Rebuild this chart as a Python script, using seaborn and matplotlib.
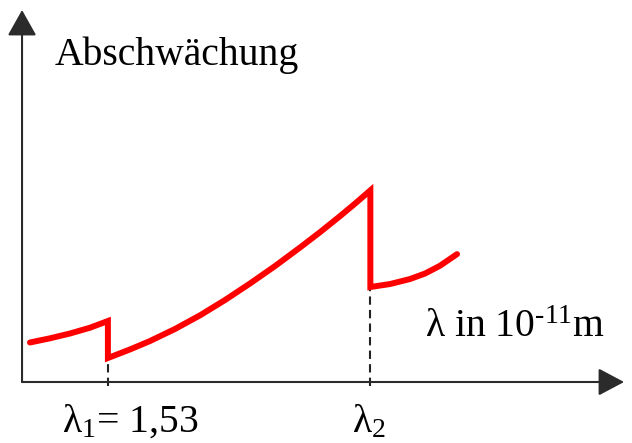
import numpy as np
import matplotlib
matplotlib.use("Agg")
import matplotlib.pyplot as plt
import seaborn as sns

sns.set_style("white")
plt.rcParams["font.family"] = ["Liberation Serif", "DejaVu Serif"]
plt.rcParams["mathtext.fontset"] = "custom"
plt.rcParams["mathtext.rm"] = "Liberation Serif"
plt.rcParams["mathtext.it"] = "Liberation Serif"
plt.rcParams["text.color"] = "black"

# absorption curve (wavelength in 10^-11 m, attenuation in arbitrary units)
lam1 = 1.53
lam2 = 3.15
wavelength = [1.049, 1.173, 1.296, 1.420, 1.53,
              1.53, 1.667, 1.790, 1.944, 2.099, 2.253, 2.407, 2.562, 2.716, 2.840,
              2.963, 3.056, 3.15,
              3.15, 3.272, 3.395, 3.488, 3.580, 3.685]
attenuation = [1.062, 1.175, 1.304, 1.460, 1.640,
               0.645, 0.876, 1.102, 1.425, 1.793, 2.204, 2.648, 3.118, 3.616, 4.030,
               4.460, 4.798, 5.153,
               2.554, 2.634, 2.769, 2.917, 3.126, 3.438]
edge_low = [0.645, 2.554]

fig = plt.figure(figsize=(6.32, 4.43), dpi=100)
ax = fig.add_axes([0, 0, 1, 1])
ax.set_xlim(0.864, 4.765)
ax.set_ylim(-1.64, 10.27)
ax.axis("off")

axis_col = "#2b2b2b"
# axes with arrow heads
ax.annotate("", xy=(4.716, 0), xytext=(1.0, 0),
            arrowprops=dict(arrowstyle="-|>,head_length=16,head_width=8.5", mutation_scale=1,
                            color=axis_col, lw=1.5, shrinkA=0, shrinkB=0))
ax.annotate("", xy=(1.0, 10.0), xytext=(1.0, 0),
            arrowprops=dict(arrowstyle="-|>,head_length=16,head_width=9", mutation_scale=1,
                            color=axis_col, lw=1.5, shrinkA=0, shrinkB=0))

# dashed markers at the absorption edges
ax.vlines([lam1, lam2], -0.1, edge_low, colors="#222222", linestyles=(0, (4, 2.5)), lw=1.5)

sns.lineplot(x=wavelength, y=attenuation, sort=False, estimator=None,
             color="red", lw=4.3, ax=ax)
ax.lines[-1].set_solid_joinstyle("miter")

fs = 28.5
ax.text(1.204, 8.52, "Abschwächung", fontsize=fs, va="baseline", ha="left")
ax.text(3.49, 1.21, "λ in 10$^{\u2010 11}$m", fontsize=fs, va="baseline", ha="left")
ax.text(1.247, -1.344, "λ$_1$= 1,53", fontsize=fs, va="baseline", ha="left")
ax.text(3.037, -1.344, "λ$_2$", fontsize=fs, va="baseline", ha="left")

fig.savefig("out.png", dpi=100)
